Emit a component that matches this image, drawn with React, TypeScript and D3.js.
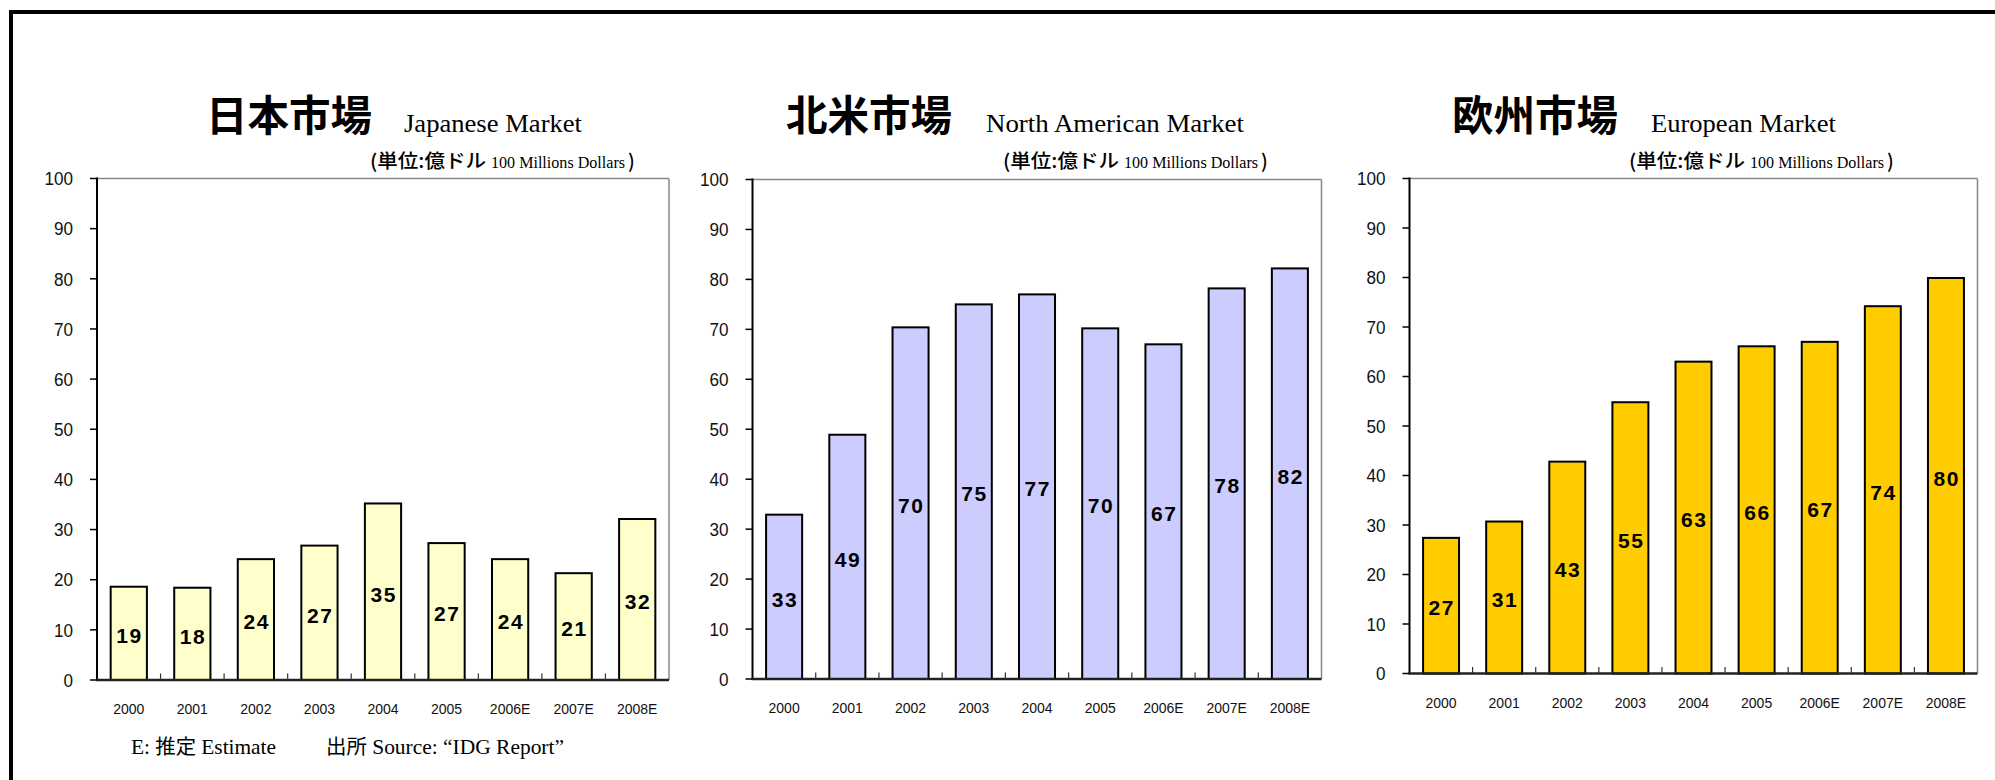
import React from 'react';
import * as d3 from 'd3';

const years = ['2000', '2001', '2002', '2003', '2004', '2005', '2006E', '2007E', '2008E'];
const japanValues = [18.6, 18.4, 24.1, 26.8, 35.2, 27.3, 24.1, 21.3, 32.1];
const northAmericaValues = [32.9, 48.9, 70.4, 75.0, 77.0, 70.2, 67.0, 78.2, 82.2];
const europeValues = [27.4, 30.7, 42.8, 54.8, 63.0, 66.1, 67.0, 74.2, 79.9];
const yTicks = [0, 10, 20, 30, 40, 50, 60, 70, 80, 90, 100];
const titlesJa = ['日本市場', '北米市場', '欧州市場'];
const titlesEn = ['Japanese Market', 'North American Market', 'European Market'];
const unitJa = '(単位:億ドル';
const unitEn = '100 Millions Dollars';
const unitClose = ')';
const footerEstimate = ['E: ', '推定', ' Estimate'];
const footerSource = ['出所', ' Source: \u201CIDG Report\u201D'];

const SANS = '"Liberation Sans", Arial, sans-serif';
const SERIF = '"Liberation Serif", "Times New Roman", serif';
const CJK = '"Noto Sans CJK JP", "Noto Sans CJK SC", sans-serif';

const panels = [
  { ja: titlesJa[0], en: titlesEn[0], values: japanValues, fill: '#FFFFCC',
    left: 97, right: 669, top: 178.5, bottom: 680, titleX: 206, enX: 404, enW: 178, unitX: 370 },
  { ja: titlesJa[1], en: titlesEn[1], values: northAmericaValues, fill: '#CCCCFF',
    left: 752.5, right: 1321.5, top: 179.5, bottom: 679, titleX: 786, enX: 986, enW: 258, unitX: 1003 },
  { ja: titlesJa[2], en: titlesEn[2], values: europeValues, fill: '#FFCC00',
    left: 1409.5, right: 1977.5, top: 178.5, bottom: 673.5, titleX: 1452, enX: 1651, enW: 185, unitX: 1629 },
];

function Panel({ p }: { p: typeof panels[number] }) {
  const x = d3.scaleBand<string>().domain(years).range([p.left, p.right]).paddingInner(0.43).paddingOuter(0.215);
  const y = d3.scaleLinear().domain([0, 100]).range([p.bottom, p.top]);
  const step = x.step();
  return (
    <g>
      {/* titles */}
      <text x={p.titleX} y={131} fontFamily={CJK} fontWeight={700} fontSize={42} textLength={166} lengthAdjust="spacingAndGlyphs">{p.ja}</text>
      <text x={p.enX} y={131.5} fontFamily={SERIF} fontSize={25} textLength={p.enW} lengthAdjust="spacingAndGlyphs">{p.en}</text>
      <text x={p.unitX} y={168} fontSize={19} fontFamily={CJK} fontWeight={500} textLength={116} lengthAdjust="spacingAndGlyphs">{unitJa}</text>
      <text x={p.unitX + 121} y={168} fontSize={16} fontFamily={SERIF} textLength={134} lengthAdjust="spacingAndGlyphs">{unitEn}</text>
      <text x={p.unitX + 258} y={168} fontSize={19} fontFamily={CJK} fontWeight={500}>{unitClose}</text>
      {/* bars */}
      {p.values.map((v, i) => (
        <rect key={years[i]} x={x(years[i])} y={y(v)} width={x.bandwidth()} height={y(0) - y(v)}
          fill={p.fill} stroke="#000" strokeWidth={2} />
      ))}
      {/* frame */}
      <line x1={p.left} x2={p.right} y1={p.top} y2={p.top} stroke="#888" strokeWidth={1.5} />
      <line x1={p.right} x2={p.right} y1={p.top} y2={p.bottom} stroke="#888" strokeWidth={1.5} />
      <line x1={p.left} x2={p.left} y1={p.top - 1} y2={p.bottom} stroke="#000" strokeWidth={2} />
      <line x1={p.left - 1} x2={p.right} y1={p.bottom} y2={p.bottom} stroke="#222" strokeWidth={2.5} />
      {/* y ticks */}
      {yTicks.map((t) => (
        <g key={t}>
          <line x1={p.left - 7} x2={p.left} y1={y(t)} y2={y(t)} stroke="#000" strokeWidth={1.5} />
          <text x={p.left - 24} y={y(t) + 6.8} textAnchor="end" fontFamily={SANS} fontSize={19} fill="#111"
            transform={`translate(${(p.left - 24) * 0.1},0) scale(0.9,1)`}>{t}</text>
        </g>
      ))}
      {/* x ticks between categories */}
      {years.slice(1).map((yr, i) => (
        <line key={yr} x1={p.left + (i + 1) * step} x2={p.left + (i + 1) * step} y1={p.bottom} y2={p.bottom - 6.5}
          stroke="#333" strokeWidth={1.2} />
      ))}
      {/* x labels */}
      {years.map((yr) => (
        <text key={yr} x={(x(yr) as number) + x.bandwidth() / 2} y={p.bottom + 34} textAnchor="middle"
          fontFamily={SANS} fontSize={14} fill="#111">{yr}</text>
      ))}
      {/* value labels */}
      {p.values.map((v, i) => (
        <text key={years[i]} x={(x(years[i]) as number) + x.bandwidth() / 2 + 0.8}
          y={(y(v) + y(0)) / 2 + 9.8} textAnchor="middle" fontFamily={SANS} fontWeight={700}
          fontSize={21} letterSpacing={1.6} fill="#000">{Math.round(v)}</text>
      ))}
    </g>
  );
}

export default function App() {
  return (
    <svg width={1995} height={780} style={{ position: 'absolute', left: 0, top: 0, background: '#fff' }}>
      <rect x={0} y={0} width={1995} height={780} fill="#fff" />
      <path d="M11,780 V12 H1995" fill="none" stroke="#000" strokeWidth={4} />
      {panels.map((p) => <Panel key={p.en} p={p} />)}
      <text x={131} y={754} fontSize={21} fontFamily={SERIF} textLength={145} lengthAdjust="spacingAndGlyphs">
        <tspan>{footerEstimate[0]}</tspan>
        <tspan fontFamily={CJK} fontSize={20}>{footerEstimate[1]}</tspan>
        <tspan>{footerEstimate[2]}</tspan>
      </text>
      <text x={326} y={754} fontSize={21} fontFamily={SERIF} textLength={238} lengthAdjust="spacingAndGlyphs">
        <tspan fontFamily={CJK} fontSize={20}>{footerSource[0]}</tspan>
        <tspan>{footerSource[1]}</tspan>
      </text>
    </svg>
  );
}
